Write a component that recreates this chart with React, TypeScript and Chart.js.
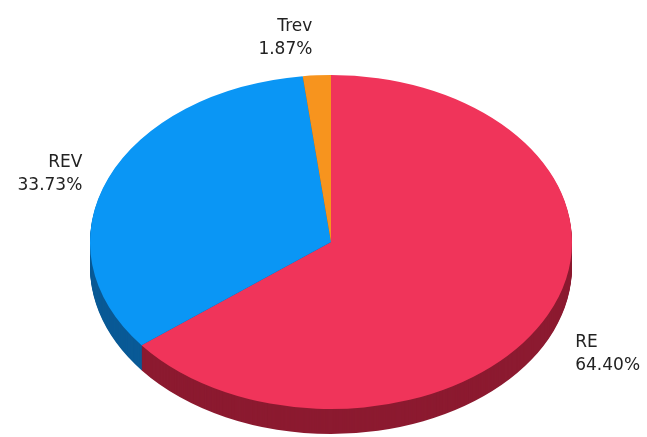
import React, { useEffect, useRef } from "react";
import { Chart, registerables } from "chart.js";

Chart.register(...registerables);

const labels = ["RE", "REV", "Trev"];
const values = [64.4, 33.73, 1.87];
const topColors = ["#F0345A", "#0A96F5", "#F7941E"];
const sideColors = ["#8C1A30", "#0A5A96", "#A85F10"];

const SX = 241 / 167;
const DEPTH = 25;

const pie3d = {
  id: "pie3d",
  beforeDatasetsDraw(chart: any) {
    const ctx = chart.ctx;
    const meta = chart.getDatasetMeta(0);
    const cx = meta.data[0].x;
    ctx.save();
    ctx.translate(cx, 0);
    ctx.scale(SX, 1);
    ctx.translate(-cx, 0);
    for (let d = DEPTH; d >= 1; d--) {
      meta.data.forEach((arc: any, i: number) => {
        ctx.beginPath();
        ctx.moveTo(arc.x, arc.y + d);
        ctx.arc(arc.x, arc.y + d, arc.outerRadius, arc.startAngle, arc.endAngle);
        ctx.closePath();
        ctx.fillStyle = sideColors[i];
        ctx.fill();
      });
    }
  },
  afterDatasetsDraw(chart: any) {
    chart.ctx.restore();
  },
  afterDraw(chart: any) {
    const ctx = chart.ctx;
    const meta = chart.getDatasetMeta(0);
    const total = values.reduce((a, b) => a + b, 0);
    ctx.save();
    ctx.font = "17px 'DejaVu Sans', sans-serif";
    ctx.fillStyle = "#222";
    ctx.textBaseline = "middle";
    const lh = 23;
    meta.data.forEach((arc: any, i: number) => {
      const mid = (arc.startAngle + arc.endAngle) / 2;
      const c = Math.cos(mid);
      const s = Math.sin(mid);
      const rx = arc.outerRadius * SX;
      const ry = arc.outerRadius;
      const left = c > 0.05;
      const x = arc.x + (rx + 25) * c + (left ? 5 : -3);
      const y = arc.y + (ry + 53) * s + 16;
      ctx.textAlign = left ? "left" : "right";
      const lines = [labels[i], ((values[i] / total) * 100).toFixed(2) + "%"];
      lines.forEach((t, k) => {
        ctx.fillText(t, x, y + (k - (lines.length - 1) / 2) * lh);
      });
    });
    ctx.restore();
  },
};

export default function App() {
  const ref = useRef<HTMLCanvasElement>(null);
  useEffect(() => {
    if (!ref.current) return;
    const chart = new Chart(ref.current, {
      type: "pie",
      data: {
        labels,
        datasets: [
          {
            data: values,
            backgroundColor: topColors,
            borderWidth: 0,
            clip: false as any,
          },
        ],
      },
      options: {
        animation: false,
        responsive: true,
        maintainAspectRatio: false,
        layout: { padding: { top: 75, bottom: 28, left: 131, right: 116 } },
        plugins: { legend: { display: false }, tooltip: { enabled: false } },
      },
      plugins: [pie3d],
    });
    return () => chart.destroy();
  }, []);
  return (
    <div style={{ position: "absolute", left: 0, top: 0, width: 647, height: 437, background: "#fff" }}>
      <canvas ref={ref} />
    </div>
  );
}
